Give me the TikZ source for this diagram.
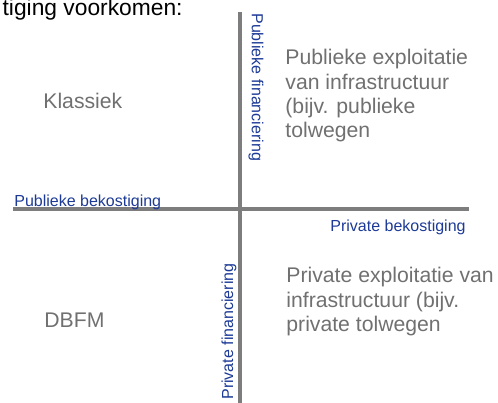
\documentclass[tikz,border=0pt]{standalone}
\usepackage{fontspec}
\setmainfont{Liberation Sans}
\usetikzlibrary{positioning}
\definecolor{axisColor}{RGB}{125,125,125}
\definecolor{quadrantColor}{RGB}{112,112,112}
\definecolor{labelColor}{RGB}{28,58,150}
\tikzstyle{quadrant} = [x = .5pt, y = -.5pt]
\tikzstyle{axisLine} = [color=axisColor, line width=1.6pt]
\tikzstyle{quadrantText} = [color=quadrantColor, font=\fontsize{10.6}{12.2}\selectfont, align=left, inner sep=0pt]
\tikzstyle{axisLabel} = [color=labelColor, font=\fontsize{8}{9.6}\selectfont, inner sep=0pt]
\tikzstyle{headText} = [color=black, font=\fontsize{11.4}{13.6}\selectfont, inner sep=0pt]
\begin{document}
\begin{tikzpicture}[quadrant]
        \useasboundingbox (0,0) rectangle (498,402);
        \clip (0,0) rectangle (498,402);
        \coordinate (axisLeft) at (13,209);
        \coordinate (axisRight) at (469,209);
        \coordinate (axisTop) at (240,12);
        \coordinate (axisBottom) at (240,404);
        \draw [axisLine] (axisLeft) -- (axisRight);
        \draw [axisLine] (axisTop) -- (axisBottom);

        \node [headText, anchor=base east] (head) at (183,15) {tiging voorkomen:};

        \node [axisLabel, anchor=west, rotate=-90] (publicFunding) at (256,13) {Publieke financiering};
        \node [axisLabel, anchor=west, rotate=90] (privateFunding) at (229,400) {Private financiering};
        \node [axisLabel, anchor=base west] (publicCost) at (14,206) {Publieke bekostiging};
        \node [axisLabel, anchor=base east] (privateCost) at (466,231) {Private bekostiging};

        \node [quadrantText, anchor=base west] (classic) at (43,108) {Klassiek};
        \node [quadrantText, anchor=base west] (dbfm) at (44,327) {DBFM};
        \node [quadrantText, anchor=north west] (publicOperation) at (285,49)
          {Publieke exploitatie\\van infrastructuur\\(bijv. publieke\\tolwegen};
        \node [quadrantText, anchor=north west] (privateOperation) at (286,267)
          {Private exploitatie van\\infrastructuur (bijv.\\private tolwegen};
      \end{tikzpicture}
\end{document}
